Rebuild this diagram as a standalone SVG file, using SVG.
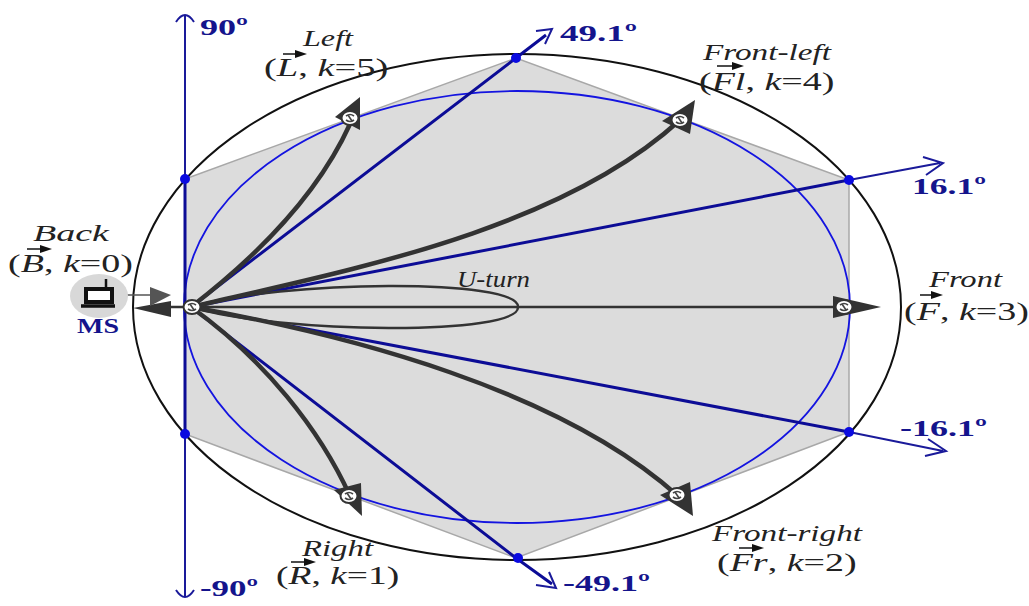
<svg xmlns="http://www.w3.org/2000/svg" width="1029" height="606" viewBox="0 0 1029 606">
<defs>
<style>
.it{font-family:"Liberation Serif",serif;font-style:italic;font-size:24px;fill:#222}
.lb{font-family:"Liberation Serif",serif;font-size:25px;fill:#222}
.lb tspan{font-style:italic}
.deg{font-family:"Liberation Serif",serif;font-weight:bold;font-size:24px;fill:#14148c}
.blue{stroke:#0c0c96;stroke-width:3;fill:none}
.thin{stroke:#1a1a9a;stroke-width:2;fill:none}
.curve{stroke:#333;stroke-width:4.5;fill:none}
.head{fill:#333}
.vec{stroke:#111;stroke-width:1.5;fill:none}
.vh{fill:#111}
.dot{fill:#0a0ae0}
</style>
<g id="hub">
<ellipse rx="8.5" ry="7" fill="#fff" stroke="#333" stroke-width="2"/>
<path d="M-4 -2Q0 -5 4 -2M-4 2Q0 5 4 2M-2 -3L2 3" fill="none" stroke="#444" stroke-width="1.6"/>
</g>
</defs>
<rect width="1029" height="606" fill="#fff"/>
<g id="background">
<polygon points="185,179 516,58 849,180 849,432 516,558 185,434" fill="#dcdcdc" stroke="#a8a8a8" stroke-width="1.5"/>
<ellipse cx="517" cy="307" rx="384" ry="253" fill="none" stroke="#111" stroke-width="2"/>
<ellipse cx="517" cy="307" rx="333" ry="216" fill="none" stroke="#1414e0" stroke-width="1.8"/>
</g>
<g id="connectors">
<path class="thin" d="M185 15V596"/>
<path class="blue" d="M185 179V434"/>
<path class="thin" d="M176 22Q185 8 194 22M176 590Q185 604 194 590"/>
<path class="blue" d="M191 307L516 58 L546 35"/>
<path class="thin" d="M536 31L552 29L545 44"/>
<path class="blue" d="M191 307L849 180"/>
<path class="thin" d="M849 180L940 163M923 157L943 163L926 175"/>
<path class="blue" d="M191 307L849 432"/>
<path class="thin" d="M849 432L943 451M928 439L946 451L925 456"/>
<path class="blue" d="M191 307L516 558 L552 584"/>
<path class="thin" d="M536 585L556 588L549 572"/>
<path d="M170 307H840" stroke="#333" stroke-width="2.5" fill="none"/>
<path d="M191 307C280 280 520 278 518 307C520 336 280 334 191 307" stroke="#333" stroke-width="2.5" fill="none"/>
<path class="curve" d="M191 307C265 250 320 190 350 124"/>
<path class="curve" d="M191 307C350 270 560 230 680 120"/>
<path class="curve" d="M191 307C350 335 560 390 678 496"/>
<path class="curve" d="M191 307C265 360 320 430 350 496"/>
<polygon class="head" points="360,97 360,130 335,117"/>
<polygon class="head" points="695,100 690,134 662,121"/>
<polygon class="head" points="881,307 833,296 833,318"/>
<polygon class="head" points="693,516 690,482 660,495"/>
<polygon class="head" points="362,516 361,483 334,490"/>
<polygon class="head" points="133,308 171,301 171,317"/>
<path d="M118 295H160" stroke="#555" stroke-width="1.5"/>
<polygon points="150,287 171,295 150,306" fill="#555"/>
</g>
<g id="dots">
<circle class="dot" cx="185" cy="179" r="5"/>
<circle class="dot" cx="516" cy="58" r="5"/>
<circle class="dot" cx="849" cy="180" r="5"/>
<circle class="dot" cx="849" cy="432" r="5"/>
<circle class="dot" cx="518" cy="558" r="5"/>
<circle class="dot" cx="185" cy="434" r="5"/>
</g>
<g id="hubs">
<use href="#hub" x="192" y="307"/>
<use href="#hub" x="350" y="118"/>
<use href="#hub" x="680" y="120"/>
<use href="#hub" x="844" y="307"/>
<use href="#hub" x="677" y="495"/>
<use href="#hub" x="349" y="496"/>
</g>
<g id="ms">
<ellipse cx="99" cy="296" rx="29" ry="22" fill="#d8d8d8"/>
<path d="M106 279V288" stroke="#111" stroke-width="2.5"/>
<rect x="86" y="289" width="26" height="13" fill="#fff" stroke="#111" stroke-width="4"/>
<path d="M81 306H115" stroke="#111" stroke-width="3.5"/>
<text x="77" y="333" textLength="42" lengthAdjust="spacingAndGlyphs" font-family="Liberation Serif,serif" font-weight="bold" font-size="21" fill="#14148c">MS</text>
</g>
<g id="label-back">
<text class="it" x="33" y="241" textLength="76" lengthAdjust="spacingAndGlyphs">Back</text>
<text class="lb" transform="translate(8 272) scale(1.52 1)">(<tspan>B</tspan>, <tspan>k</tspan>=0)</text>
<path class="vec" d="M27 249H48"/><polygon class="vh" points="40,245 52,249 40,253"/>
</g>
<g id="label-left">
<text class="it" x="303" y="46" textLength="50" lengthAdjust="spacingAndGlyphs">Left</text>
<text class="lb" transform="translate(264 76) scale(1.54 1)">(<tspan>L</tspan>, <tspan>k</tspan>=5)</text>
<path class="vec" d="M283 54H303"/><polygon class="vh" points="295,50 307,54 295,58"/>
</g>
<g id="label-front-left">
<text class="it" x="703" y="60" textLength="128" lengthAdjust="spacingAndGlyphs">Front-left</text>
<text class="lb" transform="translate(699 90) scale(1.52 1)">(<tspan>Fl</tspan>, <tspan>k</tspan>=4)</text>
<path class="vec" d="M717 66H740"/><polygon class="vh" points="732,62 744,66 732,70"/>
</g>
<g id="label-front">
<text class="it" x="929" y="287" textLength="73" lengthAdjust="spacingAndGlyphs">Front</text>
<text class="lb" transform="translate(904 320) scale(1.52 1)">(<tspan>F</tspan>, <tspan>k</tspan>=3)</text>
<path class="vec" d="M920 295H938"/><polygon class="vh" points="931,291 943,295 931,299"/>
</g>
<g id="label-front-right">
<text class="it" x="712" y="541" textLength="150" lengthAdjust="spacingAndGlyphs">Front-right</text>
<text class="lb" transform="translate(717 571) scale(1.52 1)">(<tspan>Fr</tspan>, <tspan>k</tspan>=2)</text>
<path class="vec" d="M739 548H760"/><polygon class="vh" points="752,544 764,548 752,552"/>
</g>
<g id="label-right">
<text class="it" x="302" y="556" textLength="71" lengthAdjust="spacingAndGlyphs">Right</text>
<text class="lb" transform="translate(276 584) scale(1.5 1)">(<tspan>R</tspan>, <tspan>k</tspan>=1)</text>
<path class="vec" d="M291 562H312"/><polygon class="vh" points="304,558 316,562 304,566"/>
</g>
<g id="label-uturn"><text class="it" x="457" y="287" textLength="73" lengthAdjust="spacingAndGlyphs">U-turn</text></g>
<g id="angles">
<text class="deg" x="200" y="35" textLength="48" lengthAdjust="spacingAndGlyphs">90º</text>
<text class="deg" x="560" y="41" textLength="77" lengthAdjust="spacingAndGlyphs">49.1º</text>
<text class="deg" x="912" y="194" textLength="74" lengthAdjust="spacingAndGlyphs">16.1º</text>
<text class="deg" x="900" y="436" textLength="87" lengthAdjust="spacingAndGlyphs">-16.1º</text>
<text class="deg" x="563" y="591" textLength="87" lengthAdjust="spacingAndGlyphs">-49.1º</text>
<text class="deg" x="200" y="596" textLength="58" lengthAdjust="spacingAndGlyphs">-90º</text>
</g>
</svg>
